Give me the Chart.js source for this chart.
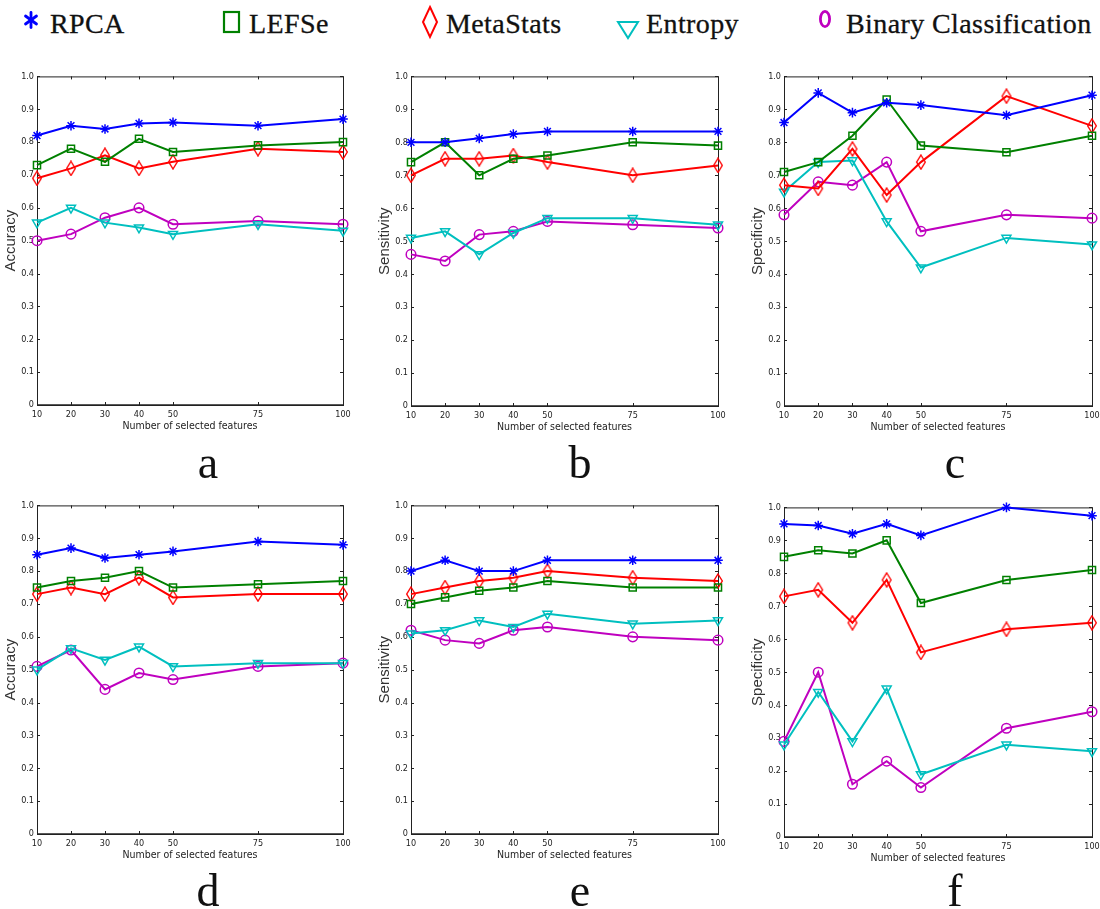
<!DOCTYPE html>
<html>
<head>
<meta charset="utf-8">
<script src="https://cdn.jsdelivr.net/npm/chart.js@4/dist/chart.umd.min.js"></script>
<style>
  body { margin: 0; background: #fff; width: 1100px; height: 909px; position: relative; overflow: hidden; }
  .panel { position: absolute; }
  .legend-text { position: absolute; font-family: "Liberation Serif", "DejaVu Serif", serif; font-size: 28px; line-height: 28px; color: #111; white-space: nowrap; letter-spacing: 0.4px; -webkit-text-stroke: 0.3px #111; }
  .letter { position: absolute; font-family: "Liberation Serif", "DejaVu Serif", serif; font-size: 46px; line-height: 46px; color: #111; width: 60px; text-align: center; }
  svg.mk { position: absolute; overflow: visible; }
</style>
</head>
<body>

<script>
// x values (number of selected features)
const features = [10, 20, 30, 40, 50, 75, 100];
const methods = ['RPCA', 'LEFSe', 'MetaStats', 'Entropy', 'Binary Classification'];
const colors = ['#0000ff', '#008000', '#ff0000', '#00bfbf', '#bf00bf'];
const panelLetters = ['a', 'b', 'c', 'd', 'e', 'f'];
const yTitles = ['Accuracy', 'Sensitivity', 'Specificity', 'Accuracy', 'Sensitivity', 'Specificity'];
const xTitle = 'Number of selected features';

// panel a
const aRPCA      = [0.82, 0.85, 0.84, 0.857, 0.86, 0.85, 0.87];
const aLEFSe     = [0.73, 0.78, 0.74, 0.81, 0.77, 0.79, 0.80];
const aMetaStats = [0.69, 0.72, 0.76, 0.72, 0.74, 0.78, 0.77];
const aEntropy   = [0.555, 0.60, 0.555, 0.54, 0.52, 0.55, 0.53];
const aBinary    = [0.50, 0.52, 0.57, 0.60, 0.55, 0.56, 0.55];
// panel b
const bRPCA      = [0.80, 0.80, 0.812, 0.825, 0.833, 0.833, 0.833];
const bLEFSe     = [0.74, 0.80, 0.70, 0.75, 0.76, 0.80, 0.79];
const bMetaStats = [0.70, 0.75, 0.75, 0.76, 0.74, 0.70, 0.73];
const bEntropy   = [0.51, 0.53, 0.46, 0.525, 0.57, 0.57, 0.55];
const bBinary    = [0.46, 0.44, 0.52, 0.53, 0.56, 0.55, 0.54];
// panel c
const cRPCA      = [0.86, 0.95, 0.89, 0.92, 0.913, 0.882, 0.943];
const cLEFSe     = [0.71, 0.74, 0.82, 0.93, 0.79, 0.77, 0.82];
const cMetaStats = [0.67, 0.66, 0.78, 0.64, 0.74, 0.94, 0.85];
const cEntropy   = [0.65, 0.74, 0.745, 0.56, 0.42, 0.51, 0.49];
const cBinary    = [0.58, 0.68, 0.67, 0.74, 0.53, 0.58, 0.57];
// panel d
const dRPCA      = [0.85, 0.87, 0.84, 0.85, 0.86, 0.89, 0.88];
const dLEFSe     = [0.75, 0.77, 0.78, 0.80, 0.75, 0.76, 0.77];
const dMetaStats = [0.73, 0.75, 0.73, 0.78, 0.72, 0.73, 0.73];
const dEntropy   = [0.50, 0.565, 0.53, 0.57, 0.51, 0.52, 0.52];
const dBinary    = [0.51, 0.56, 0.44, 0.49, 0.47, 0.51, 0.52];
// panel e
const eRPCA      = [0.80, 0.833, 0.80, 0.80, 0.833, 0.833, 0.833];
const eLEFSe     = [0.70, 0.72, 0.74, 0.75, 0.77, 0.75, 0.75];
const eMetaStats = [0.73, 0.75, 0.77, 0.78, 0.80, 0.78, 0.77];
const eEntropy   = [0.61, 0.62, 0.65, 0.63, 0.67, 0.64, 0.65];
const eBinary    = [0.62, 0.59, 0.58, 0.62, 0.63, 0.60, 0.59];
// panel f
const fRPCA      = [0.95, 0.945, 0.92, 0.95, 0.915, 1.0, 0.975];
const fLEFSe     = [0.85, 0.87, 0.86, 0.90, 0.71, 0.78, 0.81];
const fMetaStats = [0.73, 0.75, 0.65, 0.78, 0.56, 0.63, 0.65];
const fEntropy   = [0.28, 0.44, 0.29, 0.45, 0.19, 0.28, 0.26];
const fBinary    = [0.29, 0.50, 0.16, 0.23, 0.15, 0.33, 0.38];

const panelSeries = [
  [aRPCA, aLEFSe, aMetaStats, aEntropy, aBinary],
  [bRPCA, bLEFSe, bMetaStats, bEntropy, bBinary],
  [cRPCA, cLEFSe, cMetaStats, cEntropy, cBinary],
  [dRPCA, dLEFSe, dMetaStats, dEntropy, dBinary],
  [eRPCA, eLEFSe, eMetaStats, eEntropy, eBinary],
  [fRPCA, fLEFSe, fMetaStats, fEntropy, fBinary]
];

// plot-box geometry of each subplot (left, top, width, height)
const boxes = [
  { l: 37,  t: 76,  w: 306, h: 329 },
  { l: 411, t: 76,  w: 307, h: 330 },
  { l: 784, t: 76,  w: 308, h: 330 },
  { l: 37,  t: 505, w: 306, h: 329 },
  { l: 411, t: 505, w: 307, h: 329 },
  { l: 784, t: 507, w: 308, h: 330 }
];
const letterPos = [
  { x: 208, y: 440 }, { x: 580, y: 440 }, { x: 955, y: 440 },
  { x: 208, y: 868 }, { x: 580, y: 868 }, { x: 955, y: 868 }
];

const Y_AXIS_W = 37, X_AXIS_H = 34, PAD_TOP = 8, PAD_RIGHT = 12;
const tickFont = { family: '"Liberation Sans Narrow", "DejaVu Sans Condensed", "Liberation Sans", sans-serif', size: 9 };

// tall diamond marker like matlab's 'd'
function diamondMarker(color) {
  const c = document.createElement('canvas');
  c.width = 12; c.height = 16;
  const ctx = c.getContext('2d');
  ctx.strokeStyle = color;
  ctx.lineWidth = 1.4;
  ctx.beginPath();
  ctx.moveTo(6, 1); ctx.lineTo(10.3, 8); ctx.lineTo(6, 15); ctx.lineTo(1.7, 8);
  ctx.closePath();
  ctx.stroke();
  return c;
}

const markerStyles = [
  { pointStyle: 'star', pointRadius: 4.8, pointRotation: 0 },
  { pointStyle: 'rect', pointRadius: 5, pointRotation: 0 },
  { pointStyle: diamondMarker(colors[2]), pointRadius: 6, pointRotation: 0 },
  { pointStyle: 'triangle', pointRadius: 5.2, pointRotation: 180 },
  { pointStyle: 'circle', pointRadius: 4.8, pointRotation: 0 }
];

// box with inward ticks on all sides
const matlabBox = {
  id: 'matlabBox',
  beforeDatasetsDraw(chart) {
    const { ctx, chartArea: a, scales } = chart;
    ctx.save();
    ctx.strokeStyle = '#222';
    ctx.lineWidth = 1;
    ctx.strokeRect(a.left + 0.5, a.top + 0.5, a.right - a.left, a.bottom - a.top);
    ctx.lineWidth = 1.6;
    ctx.beginPath();
    ctx.moveTo(a.left, a.bottom); ctx.lineTo(a.right + 1, a.bottom);
    ctx.stroke();
    ctx.lineWidth = 1;
    ctx.beginPath();
    scales.y.ticks.forEach(t => {
      const y = Math.round(scales.y.getPixelForValue(t.value)) + 0.5;
      ctx.moveTo(a.left, y); ctx.lineTo(a.left + 3, y);
      ctx.moveTo(a.right, y); ctx.lineTo(a.right - 3, y);
    });
    scales.x.ticks.forEach(t => {
      const x = Math.round(scales.x.getPixelForValue(t.value)) + 0.5;
      ctx.moveTo(x, a.bottom); ctx.lineTo(x, a.bottom - 3);
      ctx.moveTo(x, a.top); ctx.lineTo(x, a.top + 3);
    });
    ctx.stroke();
    ctx.restore();
  }
};

boxes.forEach((b, i) => {
  const div = document.createElement('div');
  div.className = 'panel';
  const W = b.w + Y_AXIS_W + PAD_RIGHT, H = b.h + PAD_TOP + X_AXIS_H;
  div.style.left = (b.l - Y_AXIS_W) + 'px';
  div.style.top = (b.t - PAD_TOP) + 'px';
  div.style.width = W + 'px';
  div.style.height = H + 'px';
  const canvas = document.createElement('canvas');
  div.appendChild(canvas);
  document.body.appendChild(div);

  const datasets = panelSeries[i].map((vals, k) => Object.assign({
    label: methods[k],
    data: features.map((f, j) => ({ x: f, y: vals[j] })),
    borderColor: colors[k],
    backgroundColor: 'rgba(0,0,0,0)',
    pointBorderColor: colors[k],
    pointBackgroundColor: 'rgba(0,0,0,0)',
    borderWidth: 2,
    pointBorderWidth: 1.5,
    tension: 0,
    clip: false
  }, markerStyles[k]));

  new Chart(canvas, {
    type: 'line',
    data: { datasets },
    plugins: [matlabBox],
    options: {
      responsive: true,
      maintainAspectRatio: false,
      animation: false,
      events: [],
      layout: { padding: { top: PAD_TOP, right: PAD_RIGHT, left: 0, bottom: 0 } },
      plugins: { legend: { display: false }, tooltip: { enabled: false } },
      scales: {
        x: {
          type: 'linear',
          min: 10, max: 100,
          afterBuildTicks: s => { s.ticks = features.map(v => ({ value: v })); },
          afterFit: s => { s.height = X_AXIS_H; },
          grid: { display: false, drawTicks: false },
          border: { display: false },
          ticks: { font: tickFont, color: '#222', padding: 4, maxRotation: 0, autoSkip: false },
          title: {
            display: true, text: xTitle, color: '#222',
            font: { family: tickFont.family, size: 10.5 },
            padding: { top: 0, bottom: 6 }
          }
        },
        y: {
          min: 0, max: 1,
          afterFit: s => { s.width = Y_AXIS_W; },
          grid: { display: false, drawTicks: false },
          border: { display: false },
          ticks: { stepSize: 0.1, font: tickFont, color: '#222', padding: 3 },
          title: {
            display: true, text: yTitles[i], color: '#333',
            font: { family: '"Liberation Sans", "DejaVu Sans", sans-serif', size: 15 },
            padding: { top: 2, bottom: 0 }
          }
        }
      }
    }
  });

  const lt = document.createElement('div');
  lt.className = 'letter';
  lt.textContent = panelLetters[i];
  lt.style.left = (letterPos[i].x - 30) + 'px';
  lt.style.top = letterPos[i].y + 'px';
  document.body.appendChild(lt);
});

// legend across the top
const legendText = [50, 249, 446, 646, 846];
const legendSvgs = [
  `<svg class="mk" style="left:24px;top:11px" width="14" height="18"><g stroke="${colors[0]}" stroke-width="2.8" stroke-linecap="round"><line x1="7" y1="1.5" x2="7" y2="16.5"/><line x1="1.5" y1="5" x2="12.5" y2="13"/><line x1="1.5" y1="13" x2="12.5" y2="5"/></g></svg>`,
  `<svg class="mk" style="left:222px;top:10px" width="20" height="24"><rect x="2" y="2" width="15" height="20" fill="none" stroke="${colors[1]}" stroke-width="2.2"/></svg>`,
  `<svg class="mk" style="left:421px;top:5px" width="18" height="34"><polygon points="9,2 16,17 9,32 2,17" fill="none" stroke="${colors[2]}" stroke-width="2"/></svg>`,
  `<svg class="mk" style="left:616px;top:20px" width="24" height="20"><polygon points="2,2 22,2 12,18" fill="none" stroke="${colors[3]}" stroke-width="2"/></svg>`,
  `<svg class="mk" style="left:818px;top:8px" width="14" height="22"><ellipse cx="7" cy="11" rx="4.6" ry="7.6" fill="none" stroke="${colors[4]}" stroke-width="2.8"/></svg>`
];
methods.forEach((m, k) => {
  document.body.insertAdjacentHTML('beforeend', legendSvgs[k]);
  const t = document.createElement('div');
  t.className = 'legend-text';
  t.textContent = m;
  t.style.left = legendText[k] + 'px';
  t.style.top = '10px';
  document.body.appendChild(t);
});
</script>
</body>
</html>
